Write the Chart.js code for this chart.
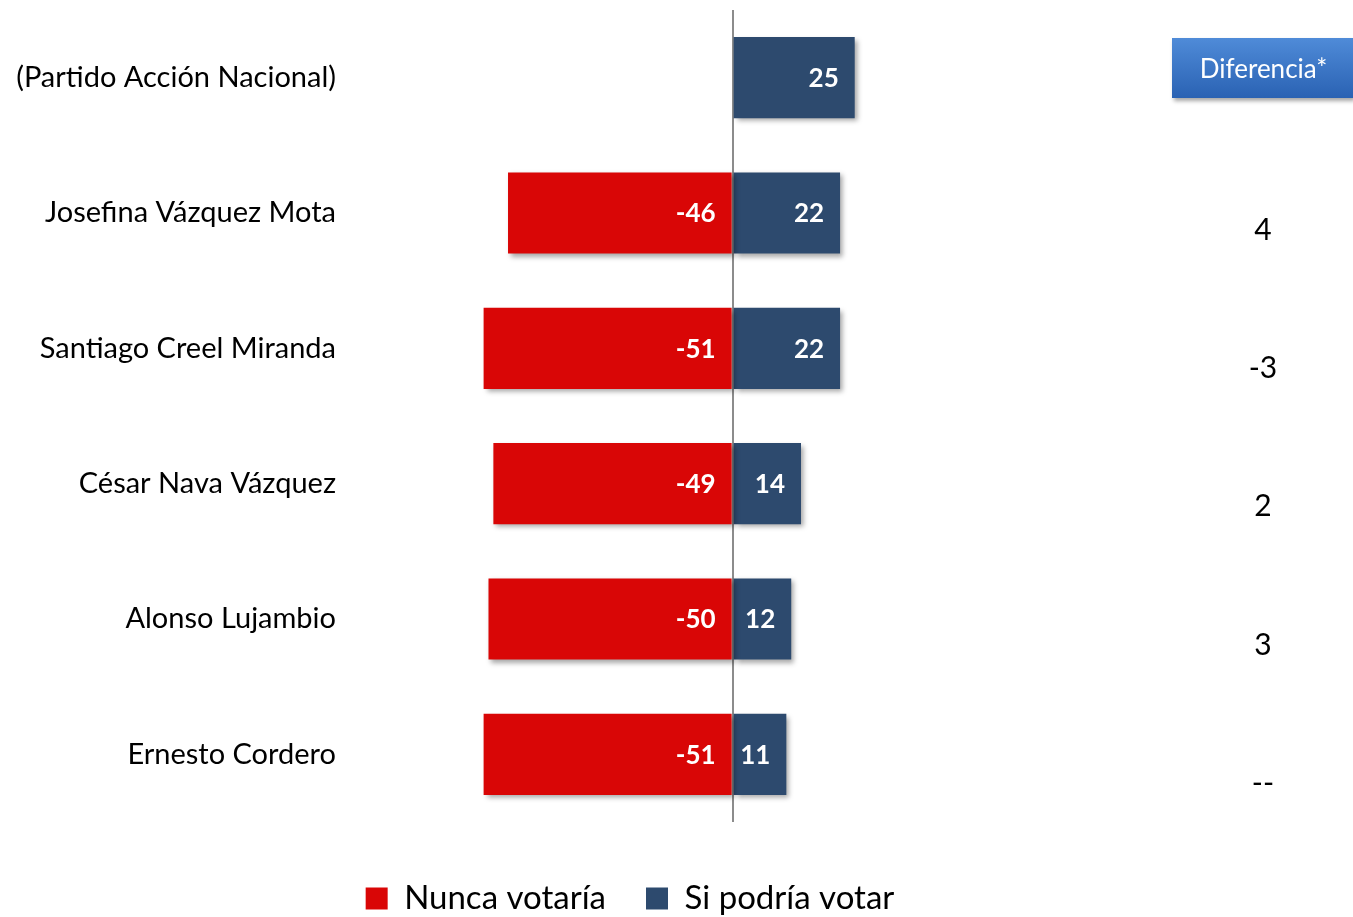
<!DOCTYPE html>
<html>
<head>
<meta charset="utf-8">
<script src="https://cdn.jsdelivr.net/npm/chart.js@4"></script>
<style>
  body { margin: 0; background: #fff; }
  #caja { width: 1353px; height: 917px; position: relative; }
</style>
</head>
<body>
<div id="caja"><canvas id="grafico"></canvas></div>
<script>
const candidatos = ['(Partido Acción Nacional)', 'Josefina Vázquez Mota', 'Santiago Creel Miranda',
    'César Nava Vázquez', 'Alonso Lujambio', 'Ernesto Cordero'];
const nuncaVotaria = [null, -46, -51, -49, -50, -51];
const siPodriaVotar = [25, 22, 22, 14, 12, 11];
const diferencia = ['', '4', '-3', '2', '3', '--'];

const fuente = 'Lato, "Open Sans", sans-serif';

// sombra suave en las barras
const sombraBarras = {
    id: 'sombraBarras',
    beforeDatasetsDraw(chart) {
        const ctx = chart.ctx;
        ctx.save();
        ctx.shadowColor = 'rgba(0,0,0,0.35)';
        ctx.shadowBlur = 5;
        ctx.shadowOffsetX = 3;
        ctx.shadowOffsetY = 3;
    },
    afterDatasetsDraw(chart) {
        chart.ctx.restore();
    }
};

// numeros dentro de las barras y columna de diferencia
const etiquetas = {
    id: 'etiquetas',
    afterDraw(chart) {
        const ctx = chart.ctx;
        ctx.save();
        ctx.fillStyle = '#fff';
        ctx.font = 'bold 26px ' + fuente;
        ctx.textAlign = 'right';
        ctx.textBaseline = 'middle';
        chart.data.datasets.forEach((ds, i) => {
            chart.getDatasetMeta(i).data.forEach((bar, j) => {
                if (ds.data[j] === null) return;
                const derecha = Math.max(bar.x, bar.base);
                ctx.fillText(ds.data[j], derecha - 16, bar.y + 1);
            });
        });

        // recuadro "Diferencia*"
        const x0 = 1172, y0 = 38, w = 181, h = 60;
        ctx.shadowColor = 'rgba(0,0,0,0.35)';
        ctx.shadowBlur = 4;
        ctx.shadowOffsetX = 2;
        ctx.shadowOffsetY = 3;
        const grad = ctx.createLinearGradient(0, y0, 0, y0 + h);
        grad.addColorStop(0, '#4f8bd8');
        grad.addColorStop(1, '#2a62b3');
        ctx.fillStyle = grad;
        ctx.fillRect(x0, y0, w, h);
        ctx.shadowColor = 'transparent';
        ctx.fillStyle = '#fff';
        ctx.font = '26px ' + fuente;
        ctx.textAlign = 'center';
        ctx.fillText('Diferencia*', x0 + w / 2 + 1, y0 + 32);

        const y = chart.scales.y;
        ctx.fillStyle = '#000';
        ctx.font = '30px ' + fuente;
        diferencia.forEach((d, i) => {
            if (!d) return;
            ctx.fillText(d, 1263, y.getPixelForValue(i) + 17 + (i - 1) * 3);
        });
        ctx.restore();
    }
};

const ctx = document.getElementById('grafico').getContext('2d');
const chart = new Chart(ctx, {
    type: 'bar',
    data: {
        labels: candidatos,
        datasets: [{
            label: 'Nunca votaría',
            data: nuncaVotaria,
            backgroundColor: '#d90606',
            barPercentage: 0.6,
            categoryPercentage: 1
        }, {
            label: 'Si podría votar',
            data: siPodriaVotar,
            backgroundColor: '#2d4a6e',
            barPercentage: 0.6,
            categoryPercentage: 1
        }]
    },
    options: {
        indexAxis: 'y',
        responsive: true,
        maintainAspectRatio: false,
        animation: false,
        layout: { padding: { top: 10, right: 93, left: 0, bottom: -8 } },
        scales: {
            x: {
                stacked: true,
                min: -80,
                max: 108,
                z: 1,
                ticks: { display: false, stepSize: 20 },
                border: { display: false },
                grid: {
                    drawTicks: false,
                    lineWidth: 2,
                    color: c => c.tick && c.tick.value === 0 ? '#8c8c8c' : 'transparent'
                },
                afterFit: scale => { scale.height = 20; }
            },
            y: {
                stacked: true,
                border: { display: false },
                grid: { display: false, drawTicks: false },
                ticks: { color: '#000', padding: 6, font: { family: fuente, size: 29 } },
                afterFit: scale => {
                    scale.width = 342;
                    scale.paddingTop = 0;
                    scale.paddingBottom = 0;
                }
            }
        },
        plugins: {
            legend: {
                position: 'bottom',
                labels: {
                    color: '#000',
                    boxWidth: 22,
                    boxHeight: 22,
                    padding: 40,
                    font: { family: fuente, size: 33 }
                }
            },
            tooltip: { enabled: false }
        }
    },
    plugins: [sombraBarras, etiquetas]
});
</script>
</body>
</html>
